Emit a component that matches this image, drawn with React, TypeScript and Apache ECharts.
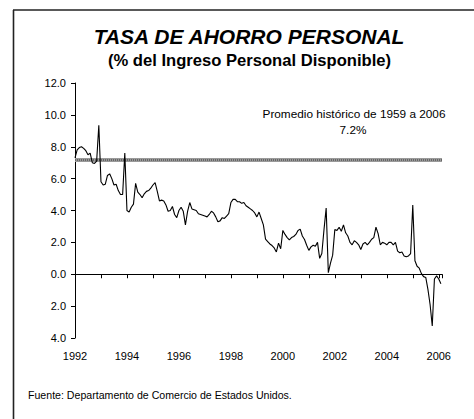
import React, { useEffect, useRef } from "react";
import * as echarts from "echarts";

// Monthly personal saving rate (%), Jan of each year onward
const y1992 = [7.3, 7.8, 7.95, 8.0, 7.9, 7.75, 7.5, 7.6, 7.0, 6.95, 7.1, 9.35];
const y1993 = [5.8, 5.6, 5.65, 6.2, 6.3, 6.0, 5.6, 5.65, 5.25, 5.0, 5.0, 7.6];
const y1994 = [4.0, 3.9, 4.2, 4.4, 5.7, 5.15, 5.0, 4.8, 5.05, 5.2, 5.25, 5.4];
const y1995 = [5.6, 5.75, 5.2, 4.6, 4.65, 4.6, 4.35, 3.95, 4.0, 4.25, 3.75, 3.55];
const y1996 = [4.0, 4.2, 3.95, 3.1, 3.95, 4.5, 4.1, 4.05, 4.0, 3.8, 3.75, 3.7];
const y1997 = [3.65, 3.6, 3.75, 3.95, 3.85, 3.6, 3.3, 3.35, 3.55, 3.5, 3.65, 3.8];
const y1998 = [4.5, 4.7, 4.7, 4.55, 4.55, 4.45, 4.5, 4.3, 4.2, 4.1, 4.0, 3.85];
const y1999 = [3.6, 3.9, 3.5, 3.1, 2.2, 2.05, 1.9, 1.8, 1.65, 1.4, 1.95, 1.6];
const y2000 = [2.75, 2.5, 2.3, 2.15, 2.3, 2.37, 2.5, 2.75, 2.83, 2.4, 2.18, 1.82];
const y2001 = [1.5, 1.72, 1.82, 1.75, 2.0, 1.0, 1.3, 2.8, 4.15, 0.1, 0.7, 1.2];
const y2002 = [2.8, 2.75, 2.95, 2.7, 3.1, 2.6, 2.4, 2.0, 1.85, 2.1, 2.0, 1.85];
const y2003 = [1.55, 1.9, 2.0, 1.85, 2.0, 2.2, 2.3, 2.95, 2.55, 1.85, 2.0, 1.95];
const y2004 = [1.85, 2.0, 2.0, 1.85, 2.0, 1.45, 1.35, 1.4, 1.15, 1.1, 1.15, 1.3];
const y2005 = [4.34, 0.85, 0.5, 0.38, 0.04, -0.15, -0.2, -0.95, -1.9, -3.25, -0.3, -0.1];
const y2006 = [-0.3, -0.6];

const startYear = 1992;
const endYear = 2006.125;
const historicalAverage = 7.2;
const yTicks = { min: -4, max: 12, step: 2 };

const titleText = "TASA DE AHORRO PERSONAL";
const subtitleText = "(% del Ingreso Personal Disponible)";
const noteLine1 = "Promedio histórico de 1959 a 2006";
const noteLine2 = "7.2%";
const sourceText = "Fuente: Departamento de Comercio de Estados Unidos.";

const FONT = '"Liberation Sans", Arial, sans-serif';

export default function App() {
  const ref = useRef<HTMLDivElement>(null);
  useEffect(() => {
    if (!ref.current) return;
    const chart = echarts.init(ref.current, undefined, { renderer: "svg" });
    const all = [
      ...y1992, ...y1993, ...y1994, ...y1995, ...y1996, ...y1997, ...y1998,
      ...y1999, ...y2000, ...y2001, ...y2002, ...y2003, ...y2004, ...y2005, ...y2006,
    ];
    const data = all.map((v, i) => [startYear + i / 12, v]);
    const option: any = {
      animation: false,
      backgroundColor: "#fff",
      grid: { left: 75, right: 32, top: 83, bottom: 81, containLabel: false },
      xAxis: [
        {
          type: "value",
          min: startYear,
          max: endYear,
          interval: 1,
          axisLine: { show: true, onZero: true, lineStyle: { color: "#000", width: 1 } },
          axisTick: { show: true, inside: false, length: 4, lineStyle: { color: "#000", width: 1 } },
          axisLabel: { show: false },
          splitLine: { show: false },
        },
        {
          type: "value",
          position: "bottom",
          min: startYear,
          max: endYear,
          interval: 1,
          axisLine: { show: false, onZero: false },
          axisTick: { show: false },
          splitLine: { show: false },
          axisLabel: {
            margin: 12,
            fontSize: 11,
            color: "#000",
            fontFamily: FONT,
            formatter: (v: number) =>
              Number.isInteger(v) && v % 2 === 0 ? String(v) : "",
          },
        },
      ],
      yAxis: {
        type: "value",
        min: yTicks.min,
        max: yTicks.max,
        interval: yTicks.step,
        axisLine: { show: true, onZero: false, lineStyle: { color: "#000", width: 1 } },
        axisTick: { show: true, length: 4, lineStyle: { color: "#000", width: 1 } },
        splitLine: { show: false },
        axisLabel: {
          margin: 9,
          fontSize: 11,
          color: "#000",
          fontFamily: FONT,
          formatter: (v: number) => Math.abs(v).toFixed(1),
        },
      },
      series: [
        {
          type: "line",
          xAxisIndex: 0,
          data,
          symbol: "none",
          lineStyle: { color: "#000", width: 1.1 },
          z: 3,
          markLine: {
            silent: true,
            symbol: ["none", "none"],
            label: { show: false },
            z: 2,
            data: [
              { yAxis: historicalAverage, lineStyle: { color: "#9a9a9a", width: 4, type: "solid" } },
              { yAxis: historicalAverage, lineStyle: { color: "#555", width: 1.6, type: [1, 1] } },
            ],
          },
        },
      ],
      graphic: [
        { type: "line", shape: { x1: 13, y1: 10, x2: 474, y2: 10 }, style: { stroke: "#222", lineWidth: 1.6 } },
        { type: "line", shape: { x1: 13.5, y1: 10, x2: 13.5, y2: 419 }, style: { stroke: "#222", lineWidth: 1.6 } },
        {
          type: "text", x: 249, y: 36,
          style: { text: titleText, align: "center", verticalAlign: "middle", fontSize: 21, fontWeight: "bold", fontStyle: "italic", fontFamily: FONT, fill: "#000" },
        },
        {
          type: "text", x: 249.5, y: 60,
          style: { text: subtitleText, align: "center", verticalAlign: "middle", fontSize: 16.6, fontWeight: "bold", fontFamily: FONT, fill: "#000" },
        },
        {
          type: "text", x: 354, y: 114,
          style: { text: noteLine1, align: "center", verticalAlign: "middle", fontSize: 11.8, fontFamily: FONT, fill: "#000" },
        },
        {
          type: "text", x: 353, y: 130,
          style: { text: noteLine2, align: "center", verticalAlign: "middle", fontSize: 11.8, fontFamily: FONT, fill: "#000" },
        },
        {
          type: "text", x: 28, y: 395,
          style: { text: sourceText, align: "left", verticalAlign: "middle", fontSize: 10.6, fontFamily: FONT, fill: "#000" },
        },
      ],
    };
    chart.setOption(option);
    return () => chart.dispose();
  }, []);
  return (
    <div
      ref={ref}
      style={{ position: "absolute", left: 0, top: 0, width: 474, height: 419, background: "#fff" }}
    />
  );
}
